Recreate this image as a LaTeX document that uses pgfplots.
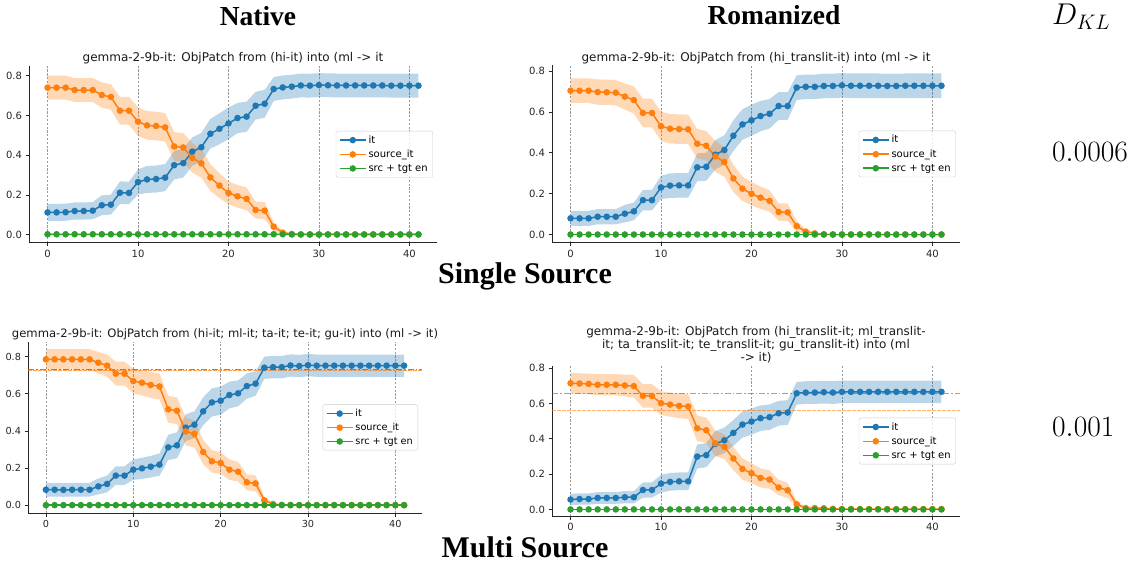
\RequirePackage{fix-cm}
\documentclass[border=0pt]{standalone}
\usepackage{fontspec}
\setmainfont{Liberation Serif}
\newfontfamily\dv{DejaVu Sans}
\usepackage{pgfplots}
\usepackage{pgfplotstable}
\usepgfplotslibrary{fillbetween}
\pgfplotsset{compat=1.18}
\definecolor{tabblue}{HTML}{1F77B4}
\definecolor{taborange}{HTML}{FF7F0E}
\definecolor{tabgreen}{HTML}{2CA02C}

% x: layer, it: mean, ih: band half-width, src: mean, sh: band half-width, en: mean
\pgfplotstableread{
x it ih src sh en
0 0.112 0.043 0.740 0.060 0.002
1 0.112 0.043 0.740 0.060 0.002
2 0.113 0.043 0.740 0.060 0.002
3 0.119 0.043 0.728 0.060 0.002
4 0.119 0.043 0.728 0.060 0.002
5 0.121 0.043 0.728 0.060 0.002
6 0.148 0.050 0.703 0.064 0.002
7 0.151 0.050 0.693 0.064 0.002
8 0.211 0.057 0.624 0.070 0.002
9 0.210 0.057 0.624 0.070 0.002
10 0.265 0.063 0.569 0.072 0.002
11 0.278 0.068 0.550 0.072 0.002
12 0.280 0.068 0.547 0.072 0.002
13 0.287 0.068 0.540 0.072 0.002
14 0.350 0.072 0.444 0.072 0.002
15 0.360 0.072 0.439 0.072 0.002
16 0.418 0.072 0.386 0.075 0.002
17 0.440 0.072 0.359 0.072 0.002
18 0.508 0.075 0.288 0.068 0.002
19 0.533 0.078 0.247 0.063 0.002
20 0.560 0.080 0.210 0.057 0.002
21 0.587 0.076 0.193 0.057 0.002
22 0.594 0.076 0.180 0.057 0.002
23 0.649 0.070 0.124 0.043 0.002
24 0.659 0.070 0.121 0.043 0.002
25 0.733 0.060 0.040 0.022 0.002
26 0.741 0.060 0.010 0.010 0.002
27 0.745 0.060 0.003 0.003 0.001
28 0.751 0.060 0.001 0.001 0.001
29 0.750 0.060 0.001 0.001 0.001
30 0.753 0.060 0.001 0.001 0.001
31 0.752 0.060 0.001 0.001 0.001
32 0.751 0.060 0.001 0.001 0.001
33 0.751 0.060 0.001 0.001 0.001
34 0.751 0.060 0.001 0.001 0.001
35 0.751 0.060 0.001 0.001 0.001
36 0.751 0.060 0.001 0.001 0.001
37 0.751 0.060 0.001 0.001 0.001
38 0.750 0.060 0.001 0.001 0.001
39 0.750 0.060 0.001 0.001 0.001
40 0.750 0.060 0.001 0.001 0.001
41 0.750 0.060 0.001 0.001 0.001
}\tA

\pgfplotstableread{
x it ih src sh en
0 0.080 0.037 0.704 0.060 0.001
1 0.080 0.037 0.704 0.060 0.001
2 0.080 0.037 0.704 0.060 0.001
3 0.088 0.037 0.697 0.062 0.001
4 0.088 0.037 0.696 0.062 0.001
5 0.088 0.037 0.694 0.062 0.001
6 0.103 0.043 0.675 0.064 0.001
7 0.114 0.043 0.658 0.066 0.001
8 0.169 0.050 0.595 0.070 0.001
9 0.169 0.050 0.595 0.070 0.001
10 0.231 0.057 0.530 0.072 0.001
11 0.240 0.060 0.518 0.072 0.001
12 0.241 0.060 0.516 0.072 0.001
13 0.241 0.060 0.515 0.072 0.001
14 0.329 0.068 0.445 0.072 0.001
15 0.332 0.068 0.435 0.072 0.001
16 0.391 0.072 0.383 0.075 0.001
17 0.414 0.072 0.355 0.072 0.001
18 0.484 0.075 0.275 0.066 0.001
19 0.539 0.075 0.225 0.060 0.001
20 0.559 0.076 0.200 0.057 0.001
21 0.580 0.074 0.181 0.055 0.001
22 0.591 0.072 0.165 0.052 0.001
23 0.629 0.068 0.111 0.043 0.001
24 0.629 0.068 0.109 0.043 0.001
25 0.719 0.060 0.042 0.025 0.001
26 0.723 0.060 0.015 0.012 0.001
27 0.723 0.060 0.007 0.007 0.001
28 0.727 0.060 0.002 0.002 0.001
29 0.727 0.060 0.001 0.001 0.001
30 0.730 0.060 0.001 0.001 0.001
31 0.728 0.060 0.001 0.001 0.001
32 0.728 0.060 0.001 0.001 0.001
33 0.728 0.060 0.001 0.001 0.001
34 0.728 0.060 0.001 0.001 0.001
35 0.727 0.060 0.001 0.001 0.001
36 0.727 0.060 0.001 0.001 0.001
37 0.728 0.060 0.001 0.001 0.001
38 0.728 0.060 0.001 0.001 0.001
39 0.728 0.060 0.001 0.001 0.001
40 0.728 0.060 0.001 0.001 0.001
41 0.728 0.060 0.001 0.001 0.001
}\tB

\pgfplotstableread{
x it ih src sh en
0 0.084 0.037 0.786 0.055 0.001
1 0.084 0.037 0.786 0.055 0.001
2 0.083 0.037 0.786 0.055 0.001
3 0.084 0.037 0.786 0.055 0.001
4 0.084 0.037 0.786 0.055 0.001
5 0.084 0.037 0.786 0.055 0.001
6 0.102 0.043 0.768 0.058 0.001
7 0.115 0.045 0.752 0.060 0.001
8 0.160 0.050 0.709 0.064 0.001
9 0.160 0.050 0.709 0.064 0.001
10 0.192 0.055 0.669 0.066 0.001
11 0.199 0.057 0.660 0.068 0.001
12 0.208 0.058 0.648 0.070 0.001
13 0.219 0.060 0.640 0.070 0.001
14 0.312 0.068 0.517 0.072 0.001
15 0.323 0.070 0.509 0.072 0.001
16 0.418 0.072 0.398 0.075 0.001
17 0.434 0.072 0.384 0.072 0.001
18 0.506 0.075 0.287 0.066 0.001
19 0.554 0.076 0.237 0.060 0.001
20 0.563 0.076 0.228 0.058 0.001
21 0.594 0.072 0.192 0.055 0.001
22 0.603 0.070 0.181 0.053 0.001
23 0.642 0.068 0.124 0.043 0.001
24 0.655 0.066 0.118 0.043 0.001
25 0.741 0.060 0.027 0.018 0.001
26 0.744 0.060 0.007 0.007 0.001
27 0.744 0.060 0.002 0.002 0.001
28 0.753 0.060 0.001 0.001 0.001
29 0.750 0.060 0.001 0.001 0.001
30 0.755 0.060 0.001 0.001 0.001
31 0.752 0.060 0.001 0.001 0.001
32 0.752 0.060 0.001 0.001 0.001
33 0.752 0.060 0.001 0.001 0.001
34 0.752 0.060 0.001 0.001 0.001
35 0.752 0.060 0.001 0.001 0.001
36 0.752 0.060 0.001 0.001 0.001
37 0.752 0.060 0.001 0.001 0.001
38 0.752 0.060 0.001 0.001 0.001
39 0.752 0.060 0.001 0.001 0.001
40 0.752 0.060 0.001 0.001 0.001
41 0.752 0.060 0.001 0.001 0.001
}\tC

\pgfplotstableread{
x it ih src sh en
0 0.057 0.032 0.715 0.058 0.001
1 0.060 0.032 0.713 0.058 0.001
2 0.060 0.032 0.711 0.058 0.001
3 0.066 0.033 0.706 0.060 0.001
4 0.066 0.033 0.706 0.060 0.001
5 0.066 0.033 0.706 0.060 0.001
6 0.070 0.035 0.702 0.062 0.001
7 0.070 0.035 0.698 0.064 0.001
8 0.111 0.043 0.643 0.066 0.001
9 0.111 0.043 0.643 0.066 0.001
10 0.147 0.050 0.602 0.068 0.001
11 0.157 0.050 0.594 0.068 0.001
12 0.160 0.050 0.587 0.070 0.001
13 0.160 0.050 0.583 0.070 0.001
14 0.300 0.068 0.460 0.072 0.001
15 0.308 0.068 0.449 0.072 0.001
16 0.372 0.072 0.375 0.072 0.001
17 0.392 0.072 0.355 0.070 0.001
18 0.434 0.073 0.289 0.066 0.001
19 0.481 0.074 0.230 0.060 0.001
20 0.498 0.074 0.206 0.057 0.001
21 0.517 0.072 0.179 0.054 0.001
22 0.523 0.072 0.170 0.052 0.001
23 0.545 0.070 0.125 0.044 0.001
24 0.549 0.070 0.109 0.042 0.001
25 0.658 0.064 0.030 0.018 0.001
26 0.662 0.064 0.009 0.008 0.001
27 0.662 0.064 0.009 0.008 0.001
28 0.664 0.064 0.008 0.007 0.001
29 0.662 0.064 0.004 0.004 0.001
30 0.666 0.064 0.003 0.003 0.001
31 0.666 0.064 0.003 0.003 0.001
32 0.666 0.064 0.003 0.003 0.001
33 0.666 0.064 0.003 0.003 0.001
34 0.666 0.064 0.003 0.003 0.001
35 0.666 0.064 0.003 0.003 0.001
36 0.666 0.064 0.003 0.003 0.001
37 0.666 0.064 0.003 0.003 0.001
38 0.666 0.064 0.003 0.003 0.001
39 0.666 0.064 0.003 0.003 0.001
40 0.666 0.064 0.003 0.003 0.001
41 0.666 0.064 0.003 0.003 0.001
}\tD

\tikzset{ttl/.style={anchor=base, inner sep=0pt, text=black!90, font=\dv\fontsize{12}{13.4}\selectfont}}

\pgfplotsset{
  mpl/.style={
    scale only axis, anchor=north west, clip=false,
    xmin=-2.05, xmax=43.05,
    axis x line*=bottom, axis y line*=left,
    axis line style={black!85, line width=0.8pt},
    tick align=outside, major tick length=3.5pt,
    tick style={black!85, line width=0.8pt},
    xtick={0,10,20,30,40}, ytick={0,0.2,0.4,0.6,0.8},
    xmajorgrids,
    major x grid style={black!40, dash pattern=on 2.2pt off 1.6pt, line width=0.6pt},
    yticklabel style={/pgf/number format/.cd, fixed, fixed zerofill, precision=1},
    tick label style={font=\dv\fontsize{10}{12}\selectfont, text=black!85},
    /pgf/number format/assume math mode=true,
    legend style={at={(0.99,0.5)}, anchor=east, font=\dv\fontsize{10}{12}\selectfont,
      draw=black!20, rounded corners=2pt, fill=white, fill opacity=0.8, text opacity=1, draw opacity=1,
      inner xsep=3pt, inner ysep=2.5pt, row sep=1.2pt},
    legend cell align=left,
    legend image code/.code={\draw[line width=1.5pt, opacity=1, mark repeat=2,mark phase=2] plot coordinates {(0pt,0pt) (13pt,0pt) (26pt,0pt)};},
  },
  ln/.style={line width=1.5pt, mark=*, mark size=2.5pt, color=#1, mark options={solid, fill=#1}},
}

\newcommand\drawpanel[1]{%
  \addplot[name path=bu, draw=none, forget plot] table[x=x, y expr=\thisrow{it}+\thisrow{ih}] {#1};
  \addplot[name path=bl, draw=none, forget plot] table[x=x, y expr=\thisrow{it}-\thisrow{ih}] {#1};
  \addplot[tabblue, fill opacity=0.3, draw=none, forget plot] fill between[of=bu and bl];
  \addplot[name path=ou, draw=none, forget plot] table[x=x, y expr=\thisrow{src}+\thisrow{sh}] {#1};
  \addplot[name path=ol, draw=none, forget plot] table[x=x, y expr=\thisrow{src}-\thisrow{sh}] {#1};
  \addplot[taborange, fill opacity=0.3, draw=none, forget plot] fill between[of=ou and ol];
  \addplot[ln=tabblue] table[x=x, y=it] {#1};
  \addplot[ln=taborange] table[x=x, y=src] {#1};
  \addplot[ln=tabgreen] table[x=x, y=en] {#1};
  \legend{it, source\_it, src + tgt en}
}

\begin{document}
\begin{tikzpicture}

% Top-left
\begin{axis}[mpl, at={(29pt,-65.6pt)}, width=408pt, height=177.1pt,
  ymin=-0.0405, ymax=0.851]
  \drawpanel{\tA}
  \node[ttl] at (rel axis cs:0.5,1) [yshift=3.8pt] {gemma-2-9b-it: ObjPatch from (hi-it) into (ml -> it};
\end{axis}

% Top-right
\begin{axis}[mpl, at={(552pt,-65.1pt)}, width=408pt, height=177.7pt,
  ymin=-0.0395, ymax=0.829]
  \drawpanel{\tB}
  \node[ttl] at (rel axis cs:0.5,1) [yshift=3.8pt] {gemma-2-9b-it: ObjPatch from (hi\_translit-it) into (ml -> it};
\end{axis}

% Bottom-left
\begin{axis}[mpl, at={(28pt,-341.5pt)}, width=394pt, height=171.8pt,
  ymin=-0.043, ymax=0.882,
  tick label style={font=\dv\fontsize{9.7}{11.6}\selectfont},
  legend style={font=\dv\fontsize{9.7}{11.6}\selectfont}]
  \addplot[tabblue, opacity=0.75, line width=0.9pt, dash pattern=on 6pt off 2pt on 1.5pt off 2pt, forget plot] coordinates {(-2.05,0.729) (43.05,0.729)};
  \addplot[taborange, opacity=0.75, line width=0.9pt, dash pattern=on 3.5pt off 1.5pt, forget plot] coordinates {(-2.05,0.725) (43.05,0.725)};
  \drawpanel{\tC}
  \node[ttl, font=\dv\fontsize{11.6}{13}\selectfont] at (rel axis cs:0.5,1) [yshift=3.6pt] {gemma-2-9b-it: ObjPatch from (hi-it; ml-it; ta-it; te-it; gu-it) into (ml -> it)};
\end{axis}

% Bottom-right
\begin{axis}[mpl, at={(552pt,-365.5pt)}, width=408pt, height=151pt,
  ymin=-0.039, ymax=0.815]
  \addplot[tabblue, opacity=0.6, line width=0.9pt, dash pattern=on 6pt off 2pt on 1.5pt off 2pt, forget plot] coordinates {(-2.05,0.655) (43.05,0.655)};
  \addplot[taborange, opacity=0.6, line width=0.9pt, dash pattern=on 3.5pt off 1.5pt, forget plot] coordinates {(-2.05,0.558) (43.05,0.558)};
  \drawpanel{\tD}
  \node[ttl] at (rel axis cs:0.5,1) [yshift=30.4pt] {gemma-2-9b-it: ObjPatch from (hi\_translit-it; ml\_translit-};
  \node[ttl] at (rel axis cs:0.5,1) [yshift=17.1pt] {it; ta\_translit-it; te\_translit-it; gu\_translit-it) into (ml};
  \node[ttl] at (rel axis cs:0.5,1) [yshift=3.8pt] {-> it)};
\end{axis}

% Headings
\node[anchor=base, inner sep=0pt, font=\bfseries\fontsize{27.5}{30}\selectfont] at (258pt,-26pt) {Native};
\node[anchor=base, inner sep=0pt, font=\bfseries\fontsize{27.5}{30}\selectfont] at (774pt,-25pt) {Romanized};
\node[anchor=base, inner sep=0pt, font=\bfseries\fontsize{30}{32}\selectfont] at (525pt,-283.3pt) {Single Source};
\node[anchor=base, inner sep=0pt, font=\bfseries\fontsize{30}{32}\selectfont] at (525pt,-557.3pt) {Multi Source};
\node[anchor=base west, inner sep=0pt, font=\fontsize{30}{32}\selectfont] at (1052pt,-25pt) {$D_{KL}$};
\node[anchor=base west, inner sep=0pt, font=\fontsize{29.5}{31}\selectfont] at (1052pt,-161.7pt) {$0.0006$};
\node[anchor=base west, inner sep=0pt, font=\fontsize{29.5}{31}\selectfont] at (1052pt,-436.7pt) {$0.001$};
\path (0pt,0pt) rectangle (1139pt,-567pt);
\end{tikzpicture}
\end{document}
